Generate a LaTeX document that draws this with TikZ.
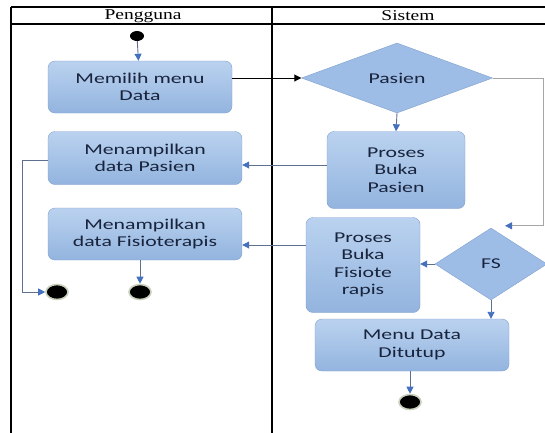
\documentclass[tikz,border=0pt]{standalone}
\usepackage{fontspec}
\setmainfont{Carlito}[FakeStretch=1.45]
\newfontfamily\hdrfont{Liberation Serif}[FakeStretch=1.3]
\usetikzlibrary{shapes.geometric,arrows.meta}
\definecolor{boxtop}{HTML}{BAD2EF}
\definecolor{boxbot}{HTML}{93B4DF}
\definecolor{boxline}{HTML}{7F9FCC}
\definecolor{dfill}{HTML}{9EBDE6}
\definecolor{txt}{HTML}{18233C}
\definecolor{flow}{HTML}{5E7090}
\definecolor{tip}{HTML}{4470BE}
\definecolor{ring}{HTML}{C9D2BC}
\tikzset{
  act/.style={rounded corners=7pt, draw=boxline, top color=boxtop, bottom color=boxbot,
    text=txt, font=\fontsize{15}{17.5}\selectfont, align=center, inner sep=0pt},
  dec/.style={diamond, draw=boxline, fill=dfill, text=txt,
    font=\fontsize{15}{17.5}\selectfont, inner sep=0pt},
  startnode/.style={ellipse, fill=black, minimum width=14pt, minimum height=10pt, inner sep=0pt},
  endnode/.style={ellipse, fill=black, draw=ring, line width=1.6pt, minimum width=22pt, minimum height=15pt, inner sep=0pt},
  flowarr/.style={draw=flow, line width=0.9pt, -{Triangle[length=7pt,width=7pt,fill=tip,color=tip]}},
  blackarr/.style={draw=black, line width=0.9pt, -{Triangle[length=7pt,width=7pt]}},
  frame/.style={draw=black, line width=1.1pt},
  hdr/.style={font=\hdrfont\fontsize{15}{16}\selectfont, inner sep=0pt}
}
\begin{document}
\begin{tikzpicture}[x=1pt,y=-1pt]
\useasboundingbox (0,0) rectangle (545,432);
\begin{scope}
\clip (0,0) rectangle (545,432);
% swimlane frame
\draw[frame] (11,7) -- (560,7);
\draw[frame] (11,24) -- (560,24);
\draw[frame] (11,7) -- (11,440);
\draw[frame] (272,7) -- (272,440);
\node[hdr] (h1) at (143,16) {Pengguna};
\node[hdr] (h2) at (408,16) {Sistem};

% nodes
\node[startnode] (start) at (137,36) {};
\node[act, minimum width=184pt, minimum height=52pt] (memilih) at (140,87) {Memilih menu\\Data};
\node[dec, minimum width=191pt, minimum height=70pt] (pasien) at (397,78) {Pasien};
\node[act, minimum width=138pt, minimum height=77pt] (prospas) at (396,170) {Proses\\Buka\\Pasien};
\node[act, minimum width=194pt, minimum height=53pt] (menpas) at (145,158) {Menampilkan\\data Pasien};
\node[act, minimum width=194pt, minimum height=52pt] (menfis) at (145,234) {Menampilkan\\data Fisioterapis};
\node[act, minimum width=114pt, minimum height=95pt] (prosfis) at (363,265) {Proses\\Buka\\Fisiote\\rapis};
\node[dec, minimum width=112pt, minimum height=72pt] (fs) at (491,264) {FS};
\node[act, minimum width=194pt, minimum height=52pt] (tutup) at (412,345) {Menu Data\\Ditutup};
\node[endnode] (end1) at (57,292) {};
\node[endnode] (end2) at (140,292) {};
\node[endnode] (end3) at (410,402) {};
\coordinate (c1) at (22,160);
\coordinate (c2) at (22,292);
\coordinate (c3) at (543,78);

% connectors
\draw[flowarr] (start) -- (memilih);
\draw[blackarr] (memilih.east |- pasien.west) -- (pasien.west);
\draw[flowarr] (pasien.south) -- (prospas.north);
\draw[flowarr] ([yshift=5pt]prospas.west) -- ([yshift=5pt]prospas.west -| menpas.east);
\draw[flowarr] ([yshift=20pt]prosfis.west) -- ([yshift=20pt]prosfis.west -| menfis.east);
\draw[flowarr] (fs.west) -- (fs.west -| prosfis.east);
\draw[flowarr] (fs.south) -- (fs.south |- tutup.north);
\draw[flowarr] (tutup.south -| end3) -- (end3);
\draw[flowarr] (end2 |- menfis.south) -- (end2);
\draw[flowarr] (menpas.west |- c1) -- (c1) -- (c2) -- (end1.west);
\draw[draw=gray!70, line width=0.8pt, -{Triangle[length=7pt,width=7pt,fill=tip,color=tip]}]
  (pasien.east) -- (c3) |- ([xshift=14pt,yshift=2pt]fs.north);
\end{scope}
\end{tikzpicture}
\end{document}
